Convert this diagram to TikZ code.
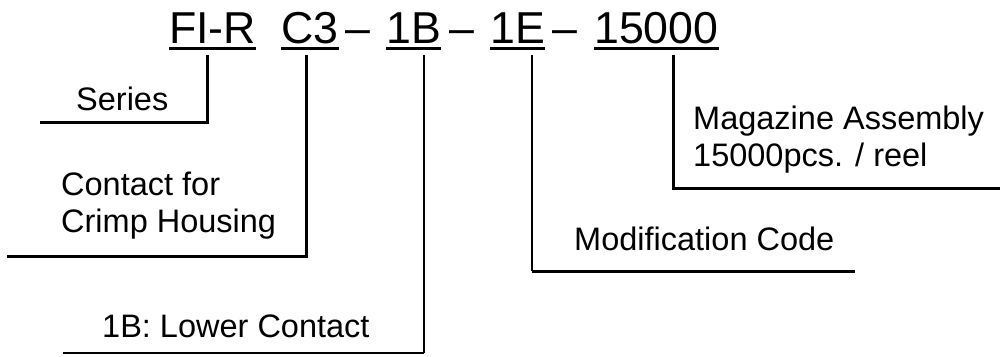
\documentclass[tikz,border=0pt]{standalone}
\usepackage{fontspec}
\setmainfont{Liberation Sans}
\begin{document}
\begin{tikzpicture}[x=1pt,y=-1pt,
  titletxt/.style={inner sep=0pt, anchor=base west, font=\fontsize{44.7}{50}\selectfont},
  lbl/.style={inner sep=0pt, anchor=base west, align=left, font=\fontsize{32.5}{36.5}\selectfont},
  uline/.style={line width=3pt},
  conn/.style={line width=3pt, line join=miter},
  connthin/.style={line width=1.3pt, line join=miter}]
\useasboundingbox (0,0) rectangle (1000,356);
% title parts
\node[titletxt] (fir) at (169,43) {FI-R};
\node[titletxt] (c3) at (281,43) {C3};
\node[titletxt] (d1) at (345,43) {–};
\node[titletxt] (b1) at (386,43) {1B};
\node[titletxt] (d2) at (449,43) {–};
\node[titletxt] (e1) at (490,43) {1E};
\node[titletxt] (d3) at (552,43) {–};
\node[titletxt] (q) at (594,43) {15000};
\foreach \n in {fir,c3,b1,e1,q}
  \draw[uline] ([yshift=-5.5]\n.base west) -- ([yshift=-5.5]\n.base east);
% labels
\node[lbl] (series) at (76,110) {Series};
\node[lbl] (contact) at (61,232) {Contact for\\Crimp Housing};
\node[lbl] (lower) at (102,337) {1B: Lower Contact};
\node[lbl] (modif) at (574,250) {Modification Code};
\node[lbl] (mag) at (693,166) {Magazine Assembly\\15000pcs. / reel};
% connector points
\coordinate (s0) at (207,55);  \coordinate (s1) at (207,122); \coordinate (s2) at (40,122);
\coordinate (c0) at (306,55);  \coordinate (c1) at (306,256); \coordinate (c2) at (7,256);
\coordinate (l0) at (424,55);  \coordinate (l1) at (424,353); \coordinate (l2) at (63,353);
\coordinate (m0) at (532,55);  \coordinate (m1) at (532,271); \coordinate (m2) at (855,271);
\coordinate (a0) at (673,55);  \coordinate (a1) at (673,188); \coordinate (a2) at (1000,188);
\draw[conn] (s0) -- (s1) -- (s2);
\draw[conn] (c0) -- (c1) -- (c2);
\draw[connthin] (l0) -- (l1);
\draw[line width=2.5pt] (l1) -- (l2);
\draw[connthin] (m0) -- (m1);
\draw[line width=3pt] (m1) -- (m2);
\draw[conn] (a0) -- (a1) -- (a2);
\end{tikzpicture}
\end{document}
